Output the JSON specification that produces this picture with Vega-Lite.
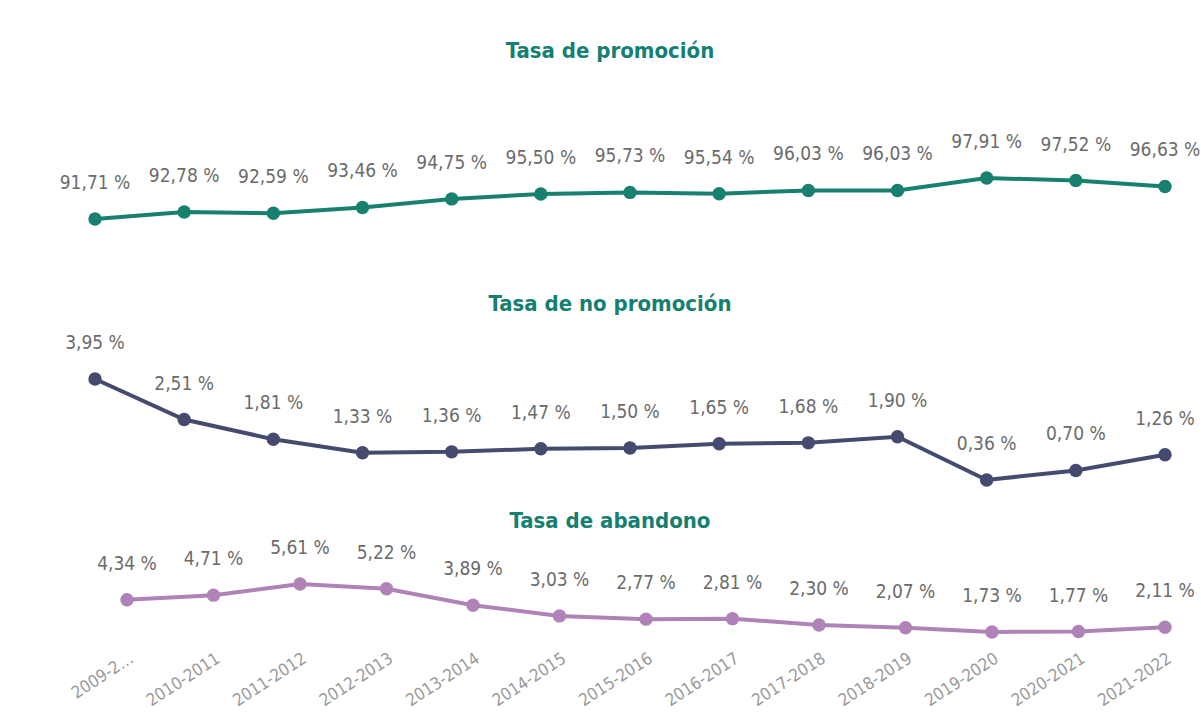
{
  "$schema": "https://vega.github.io/schema/vega-lite/v6.json",
  "padding": {"left": 35, "top": 0, "right": 0, "bottom": 0},
  "bounds": "flush",
  "spacing": 0,
  "config": {
    "view": {"stroke": null},
    "locale": {"number": {"decimal": ",", "thousands": ".", "grouping": [3], "currency": ["", " %"]}},
    "title": {"font": "DejaVu Sans Condensed, Roboto Condensed, Roboto, sans-serif", "fontSize": 22, "fontWeight": "bold", "color": "#157f71", "anchor": "middle", "baseline": "alphabetic"},
    "text": {"font": "DejaVu Sans Condensed, Roboto Condensed, Roboto, sans-serif"}
  },
  "datasets": {
    "tasas": [
      {"curso": "2009-2010", "promocion": 91.71, "no_promocion": 3.95, "abandono": 4.34},
      {"curso": "2010-2011", "promocion": 92.78, "no_promocion": 2.51, "abandono": 4.71},
      {"curso": "2011-2012", "promocion": 92.59, "no_promocion": 1.81, "abandono": 5.61},
      {"curso": "2012-2013", "promocion": 93.46, "no_promocion": 1.33, "abandono": 5.22},
      {"curso": "2013-2014", "promocion": 94.75, "no_promocion": 1.36, "abandono": 3.89},
      {"curso": "2014-2015", "promocion": 95.50, "no_promocion": 1.47, "abandono": 3.03},
      {"curso": "2015-2016", "promocion": 95.73, "no_promocion": 1.50, "abandono": 2.77},
      {"curso": "2016-2017", "promocion": 95.54, "no_promocion": 1.65, "abandono": 2.81},
      {"curso": "2017-2018", "promocion": 96.03, "no_promocion": 1.68, "abandono": 2.30},
      {"curso": "2018-2019", "promocion": 96.03, "no_promocion": 1.90, "abandono": 2.07},
      {"curso": "2019-2020", "promocion": 97.91, "no_promocion": 0.36, "abandono": 1.73},
      {"curso": "2020-2021", "promocion": 97.52, "no_promocion": 0.70, "abandono": 1.77},
      {"curso": "2021-2022", "promocion": 96.63, "no_promocion": 1.26, "abandono": 2.11}
    ]
  },
  "vconcat": [
    {
      "width": 1150,
      "height": 270,
      "title": {"text": "Tasa de promoción", "offset": -63},
      "data": {"name": "tasas"},
      "encoding": {
        "x": {"field": "curso", "type": "ordinal", "sort": null, "scale": {"type": "point", "padding": 0.4486, "align": 0.75}, "axis": null},
        "y": {"field": "promocion", "type": "quantitative", "scale": {"domain": [83.998, 124.827], "zero": false, "nice": false}, "axis": null}
      },
      "layer": [
        {"mark": {"type": "line", "color": "#18806f", "strokeWidth": 4}, "encoding": {}},
        {"mark": {"type": "point", "filled": true, "opacity": 1, "size": 180, "color": "#18806f"}},
        {"mark": {"type": "text", "dy": -36, "fontSize": 19, "color": "#6b6b6b"}, "encoding": {"text": {"field": "promocion", "type": "quantitative", "format": "$.2f"}}}
      ]
    },
    {
      "width": 1150,
      "height": 230,
      "title": {"text": "Tasa de no promoción", "offset": -46},
      "data": {"name": "tasas"},
      "encoding": {
        "x": {"field": "curso", "type": "ordinal", "sort": null, "scale": {"type": "point", "padding": 0.4486, "align": 0.75}, "axis": null},
        "y": {"field": "no_promocion", "type": "quantitative", "scale": {"domain": [-0.351, 7.824], "zero": false, "nice": false}, "axis": null}
      },
      "layer": [
        {"mark": {"type": "line", "color": "#444b6e", "strokeWidth": 4}, "encoding": {}},
        {"mark": {"type": "point", "filled": true, "opacity": 1, "size": 180, "color": "#444b6e"}},
        {"mark": {"type": "text", "dy": -36, "fontSize": 19, "color": "#6b6b6b"}, "encoding": {"text": {"field": "no_promocion", "type": "quantitative", "format": "$.2f"}}}
      ]
    },
    {
      "width": 1150,
      "height": 145,
      "title": {"text": "Tasa de abandono", "offset": -33},
      "data": {"name": "tasas"},
      "encoding": {
        "x": {"field": "curso", "type": "ordinal", "sort": null, "scale": {"type": "point", "padding": 0.6474, "align": 0.8214},
          "axis": {"title": null, "ticks": false, "domain": false, "grid": false, "labelAngle": -33, "labelFont": "DejaVu Sans Condensed, Roboto Condensed, Roboto, sans-serif", "labelFontSize": 17, "labelColor": "#9a9a9a", "labelPadding": 5, "labelOverlap": false, "labelExpr": "datum.value == '2009-2010' ? '2009-2…' : datum.label"}},
        "y": {"field": "abandono", "type": "quantitative", "scale": {"domain": [0.679, 12.4], "zero": false, "nice": false}, "axis": null}
      },
      "layer": [
        {"mark": {"type": "line", "color": "#b083b8", "strokeWidth": 4}, "encoding": {}},
        {"mark": {"type": "point", "filled": true, "opacity": 1, "size": 180, "color": "#b083b8"}},
        {"mark": {"type": "text", "dy": -36, "fontSize": 19, "color": "#6b6b6b"}, "encoding": {"text": {"field": "abandono", "type": "quantitative", "format": "$.2f"}}}
      ]
    }
  ]
}
